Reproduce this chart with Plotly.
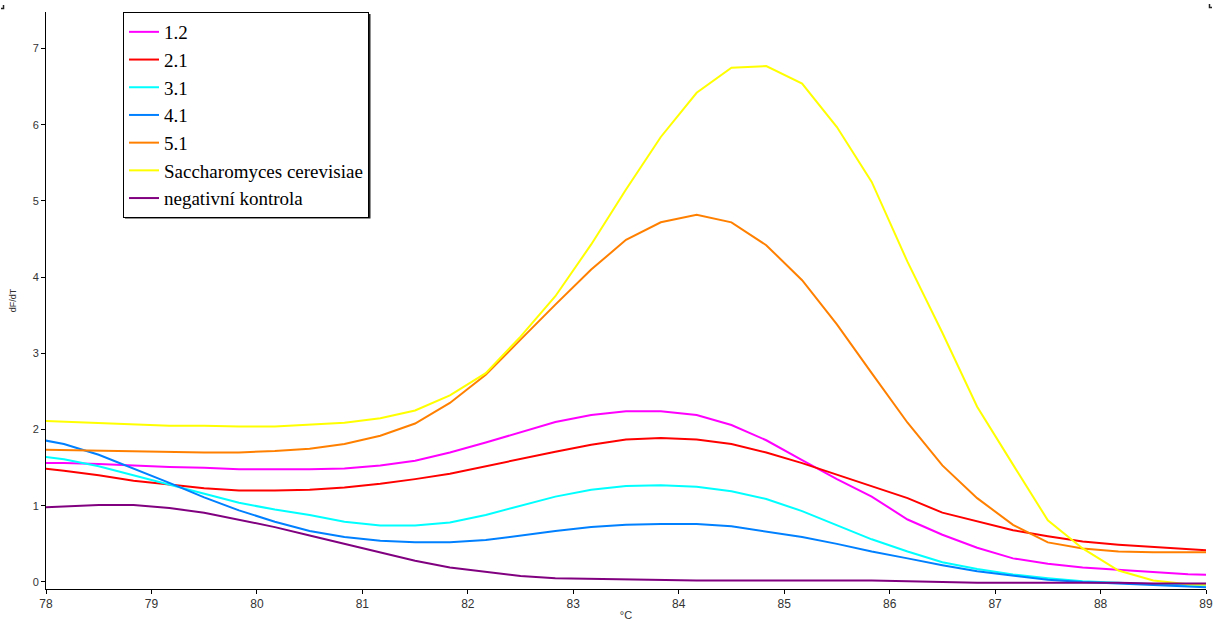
import plotly.graph_objects as go

temps = [77.83, 78.17, 78.50, 78.83, 79.17, 79.50, 79.83, 80.17, 80.50, 80.83,
         81.17, 81.50, 81.83, 82.17, 82.50, 82.83, 83.17, 83.50, 83.83, 84.17,
         84.50, 84.83, 85.17, 85.50, 85.83, 86.17, 86.50, 86.83, 87.17, 87.50,
         87.83, 88.17, 88.50, 88.83, 89.17]

s_1_2 = [1.56, 1.56, 1.55, 1.53, 1.51, 1.50, 1.48, 1.48, 1.48, 1.49,
         1.53, 1.59, 1.70, 1.83, 1.97, 2.10, 2.19, 2.24, 2.24, 2.19,
         2.06, 1.86, 1.60, 1.35, 1.12, 0.82, 0.62, 0.45, 0.31, 0.24,
         0.19, 0.16, 0.13, 0.10, 0.09]

s_2_1 = [1.51, 1.46, 1.40, 1.33, 1.28, 1.23, 1.20, 1.20, 1.21, 1.24,
         1.29, 1.35, 1.42, 1.52, 1.62, 1.71, 1.80, 1.87, 1.89, 1.87,
         1.81, 1.70, 1.56, 1.41, 1.25, 1.10, 0.91, 0.80, 0.68, 0.60,
         0.53, 0.49, 0.46, 0.43, 0.40]

s_3_1 = [1.67, 1.61, 1.52, 1.40, 1.28, 1.15, 1.04, 0.95, 0.88, 0.79,
         0.74, 0.74, 0.78, 0.88, 1.00, 1.12, 1.21, 1.26, 1.27, 1.25,
         1.19, 1.09, 0.93, 0.75, 0.56, 0.40, 0.26, 0.17, 0.10, 0.05,
         0.01, -0.01, -0.03, -0.04, -0.05]

s_4_1 = [1.90, 1.81, 1.67, 1.49, 1.30, 1.11, 0.94, 0.79, 0.67, 0.59,
         0.54, 0.52, 0.52, 0.55, 0.61, 0.67, 0.72, 0.75, 0.76, 0.76,
         0.73, 0.66, 0.59, 0.50, 0.40, 0.31, 0.22, 0.14, 0.08, 0.03,
         0.00, -0.02, -0.04, -0.06, -0.08]

s_5_1 = [1.74, 1.73, 1.72, 1.71, 1.70, 1.70, 1.70, 1.72, 1.75, 1.81,
         1.92, 2.08, 2.35, 2.72, 3.18, 3.64, 4.10, 4.49, 4.72, 4.82,
         4.72, 4.42, 3.96, 3.38, 2.74, 2.09, 1.53, 1.10, 0.75, 0.52,
         0.44, 0.40, 0.39, 0.39, 0.39]

s_sacch = [2.12, 2.10, 2.08, 2.07, 2.05, 2.05, 2.04, 2.04, 2.06, 2.09,
           2.15, 2.25, 2.45, 2.74, 3.22, 3.75, 4.43, 5.15, 5.84, 6.42,
           6.75, 6.77, 6.54, 5.97, 5.25, 4.20, 3.27, 2.30, 1.54, 0.81,
           0.44, 0.15, 0.02, -0.03, -0.04]

s_neg = [0.97, 0.99, 1.01, 1.01, 0.97, 0.91, 0.82, 0.72, 0.61, 0.50,
         0.38, 0.28, 0.19, 0.13, 0.08, 0.05, 0.04, 0.03, 0.03, 0.02,
         0.02, 0.02, 0.02, 0.02, 0.02, 0.01, 0.00, -0.01, -0.01, -0.01,
         -0.01, -0.01, -0.02, -0.02, -0.02]

names = ["1.2", "2.1", "3.1", "4.1", "5.1", "Saccharomyces cerevisiae", "negativní kontrola"]
series = [s_1_2, s_2_1, s_3_1, s_4_1, s_5_1, s_sacch, s_neg]
colors = ["#FF00FF", "#FF0000", "#00FFFF", "#0080FF", "#FF8000", "#FFFF00", "#800080"]

x_ticks = list(range(78, 90))
y_ticks = list(range(0, 8))

W, H = 1213, 621
ML, MR, MT, MB = 46, 7, 12, 32
PW, PH = W - ML - MR, H - MT - MB


def px_x(p):
    return (p - ML) / PW


def px_y(p):
    return (H - MB - p) / PH


fig = go.Figure()
for nm, ys, c in zip(names, series, colors):
    fig.add_trace(go.Scatter(x=temps, y=ys, mode="lines", name=nm,
                             line=dict(color=c, width=2)))

shapes = [
    # legend drop shadow
    dict(type="rect", xref="paper", yref="paper",
         x0=px_x(125), x1=px_x(370.5), y0=px_y(218.5), y1=px_y(14),
         fillcolor="#222222", line=dict(width=0), layer="above"),
    # tiny corner marks
    dict(type="path", xref="paper", yref="paper",
         path=f"M {px_x(3.5)} {px_y(5)} L {px_x(3.5)} {px_y(8.5)} L {px_x(1)} {px_y(8.5)}",
         line=dict(color="#222222", width=1.5)),
    dict(type="path", xref="paper", yref="paper",
         path=f"M {px_x(1209.5)} {px_y(4)} L {px_x(1209.5)} {px_y(7.5)} L {px_x(1212)} {px_y(7.5)}",
         line=dict(color="#222222", width=1.5)),
]

fig.update_layout(
    width=W, height=H,
    margin=dict(l=ML, r=MR, t=MT, b=MB, autoexpand=False),
    paper_bgcolor="white", plot_bgcolor="white",
    showlegend=True,
    legend=dict(x=px_x(123), y=px_y(12), xanchor="left", yanchor="top",
                bgcolor="white", bordercolor="black", borderwidth=1,
                font=dict(family="Liberation Serif", size=19, color="black"),
                tracegroupgap=0, itemwidth=30),
    font=dict(family="Liberation Sans", size=12, color="#333333"),
    shapes=shapes,
)
fig.update_xaxes(range=[78, 89], tickvals=x_ticks, showgrid=False, zeroline=False,
                 showline=True, linecolor="black", linewidth=1,
                 ticks="outside", ticklen=4, tickcolor="black", automargin=False,
                 tickfont=dict(size=12, color="#333333"),
                 title=dict(text="°C", font=dict(size=11), standoff=6))
fig.update_yaxes(range=[-0.092, 7.48], tickvals=y_ticks, showgrid=False, zeroline=False,
                 showline=True, linecolor="black", linewidth=1,
                 ticks="outside", ticklen=4, tickcolor="black", automargin=False,
                 tickfont=dict(size=11, color="#333333"),
                 title=dict(text="dF/dT", font=dict(size=9), standoff=14))

fig.write_html("out.html", config={"displayModeBar": False},
               post_script="document.body.style.margin='0';")
